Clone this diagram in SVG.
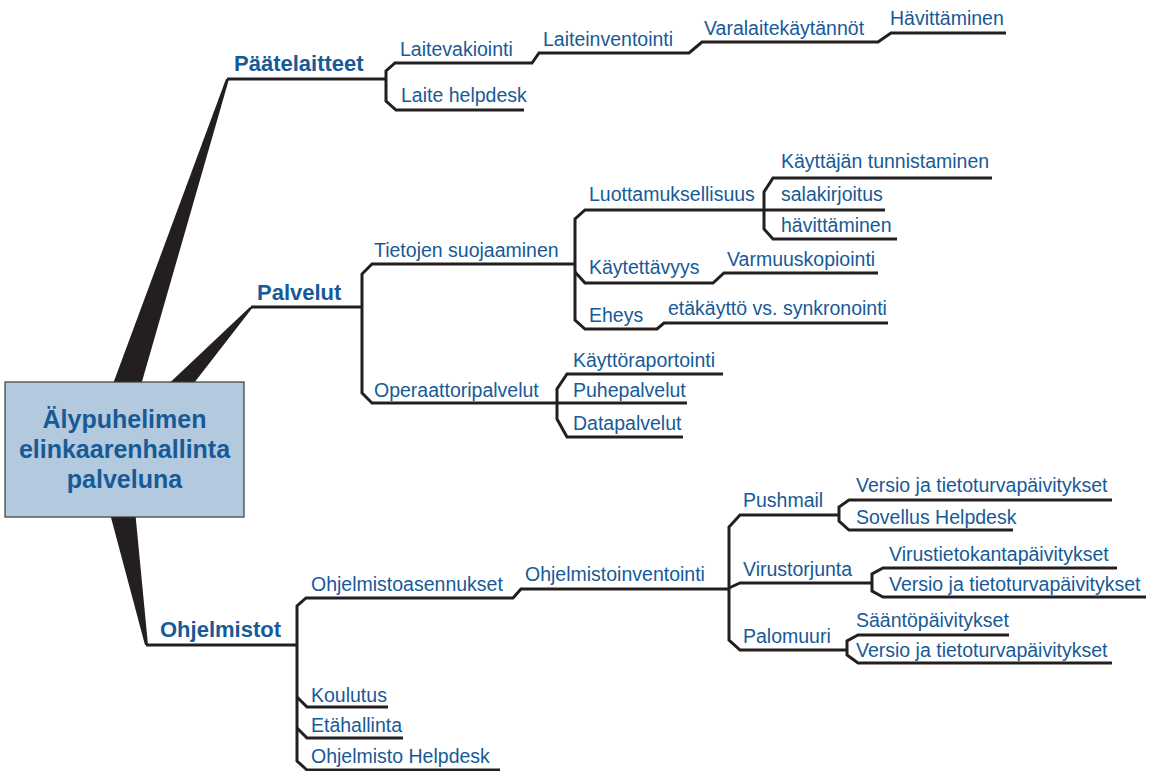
<svg xmlns="http://www.w3.org/2000/svg" width="1160" height="771" viewBox="0 0 1160 771">
<style>
.ln{fill:none;stroke:#231f20;stroke-width:3;stroke-linejoin:miter}
.stalk{fill:#231f20}
.t{font-family:"Liberation Sans",Arial,sans-serif;font-size:19.5px;fill:#175a97}
.b{font-family:"Liberation Sans",Arial,sans-serif;font-size:22px;font-weight:bold;fill:#175a97}
.c{font-family:"Liberation Sans",Arial,sans-serif;font-size:25px;font-weight:bold;fill:#175a97;text-anchor:middle}
</style>
<rect width="1160" height="771" fill="#ffffff"/>
<g id="connectors">
  <polygon class="stalk" points="110,392 139,392 229,79 226,79"/>
  <polygon class="stalk" points="160,392 187,392 253,307 250,307"/>
  <polygon class="stalk" points="109,510 135,510 148,645 145,645"/>
  <path class="ln" d="M227,79 H386"/>
  <path class="ln" d="M524,110 H396 L386,101 V71 L395,63 H532 L539,53 H689 L702,42 H878 L891,33 H1006"/>
  <path class="ln" d="M251,307 H362"/>
  <path class="ln" d="M575,264 H372 L362,274 V393 L372,403 H687"/>
  <path class="ln" d="M723,374 H567 L557,389 V419 L567,437 H683"/>
  <path class="ln" d="M885,210 H585 L575,219 V320 L585,329 H657 L664,323 H888"/>
  <path class="ln" d="M575,272 L585,283 H713 L724,273 H878"/>
  <path class="ln" d="M992,178 H773 L764,192 V229 L773,239 H897"/>
  <path class="ln" d="M146,645 H297"/>
  <path class="ln" d="M729,589 H521 L513,598 H306 L297,606 V761 L307,770 H500"/>
  <path class="ln" d="M297,697 L307,707 H388"/>
  <path class="ln" d="M297,728 L307,738 H403"/>
  <path class="ln" d="M839,515 H740 L729,527 V640 L740,650 H847"/>
  <path class="ln" d="M729,588 L740,583 H872"/>
  <path class="ln" d="M1112,500 H849 L839,507 V521 L849,530 H1013"/>
  <path class="ln" d="M1117,568 H883 L872,574 V591 L883,597 H1146"/>
  <path class="ln" d="M1009,635 H858 L847,641 V655 L858,663 H1112"/>
</g>
<g id="root">
  <rect x="5" y="382" width="239" height="135" fill="#b3c9de" stroke="#3a3a3a" stroke-width="1.2"/>
  <text class="c" x="124.5" y="428">Älypuhelimen</text>
  <text class="c" x="124.5" y="458">elinkaarenhallinta</text>
  <text class="c" x="124.5" y="488">palveluna</text>
</g>
<g id="paatelaitteet"><text class="b" x="234" y="71">Päätelaitteet</text></g>
<g id="laitevakiointi"><text class="t" x="400" y="56">Laitevakiointi</text></g>
<g id="laiteinventointi"><text class="t" x="543" y="46">Laiteinventointi</text></g>
<g id="varalaite"><text class="t" x="704" y="35">Varalaitekäytännöt</text></g>
<g id="havittaminen1"><text class="t" x="890" y="25">Hävittäminen</text></g>
<g id="laitehelpdesk"><text class="t" x="401" y="102">Laite helpdesk</text></g>
<g id="palvelut"><text class="b" x="257" y="300">Palvelut</text></g>
<g id="tietojen"><text class="t" x="374" y="257">Tietojen suojaaminen</text></g>
<g id="luottamus"><text class="t" x="589" y="201">Luottamuksellisuus</text></g>
<g id="kayttajan"><text class="t" x="781" y="168">Käyttäjän tunnistaminen</text></g>
<g id="salakirjoitus"><text class="t" x="781" y="201">salakirjoitus</text></g>
<g id="havittaminen2"><text class="t" x="781" y="232">hävittäminen</text></g>
<g id="kaytettavyys"><text class="t" x="589" y="274">Käytettävyys</text></g>
<g id="varmuus"><text class="t" x="727" y="266">Varmuuskopiointi</text></g>
<g id="eheys"><text class="t" x="589" y="322">Eheys</text></g>
<g id="etakaytto"><text class="t" x="668" y="315">etäkäyttö vs. synkronointi</text></g>
<g id="operaattori"><text class="t" x="374" y="397">Operaattoripalvelut</text></g>
<g id="kayttoraportointi"><text class="t" x="573" y="367">Käyttöraportointi</text></g>
<g id="puhepalvelut"><text class="t" x="573" y="397">Puhepalvelut</text></g>
<g id="datapalvelut"><text class="t" x="573" y="430">Datapalvelut</text></g>
<g id="ohjelmistot"><text class="b" x="160" y="637">Ohjelmistot</text></g>
<g id="asennukset"><text class="t" x="311" y="591">Ohjelmistoasennukset</text></g>
<g id="inventointi"><text class="t" x="525" y="581">Ohjelmistoinventointi</text></g>
<g id="pushmail"><text class="t" x="743" y="507">Pushmail</text></g>
<g id="versio1"><text class="t" x="856" y="492">Versio ja tietoturvapäivitykset</text></g>
<g id="sovellus"><text class="t" x="856" y="524">Sovellus Helpdesk</text></g>
<g id="virustorjunta"><text class="t" x="743" y="576">Virustorjunta</text></g>
<g id="virustieto"><text class="t" x="889" y="561">Virustietokantapäivitykset</text></g>
<g id="versio2"><text class="t" x="889" y="591">Versio ja tietoturvapäivitykset</text></g>
<g id="palomuuri"><text class="t" x="743" y="643">Palomuuri</text></g>
<g id="saanto"><text class="t" x="856" y="627">Sääntöpäivitykset</text></g>
<g id="versio3"><text class="t" x="856" y="657">Versio ja tietoturvapäivitykset</text></g>
<g id="koulutus"><text class="t" x="311" y="702">Koulutus</text></g>
<g id="etahallinta"><text class="t" x="311" y="732">Etähallinta</text></g>
<g id="ohjhelpdesk"><text class="t" x="311" y="763">Ohjelmisto Helpdesk</text></g>
</svg>
